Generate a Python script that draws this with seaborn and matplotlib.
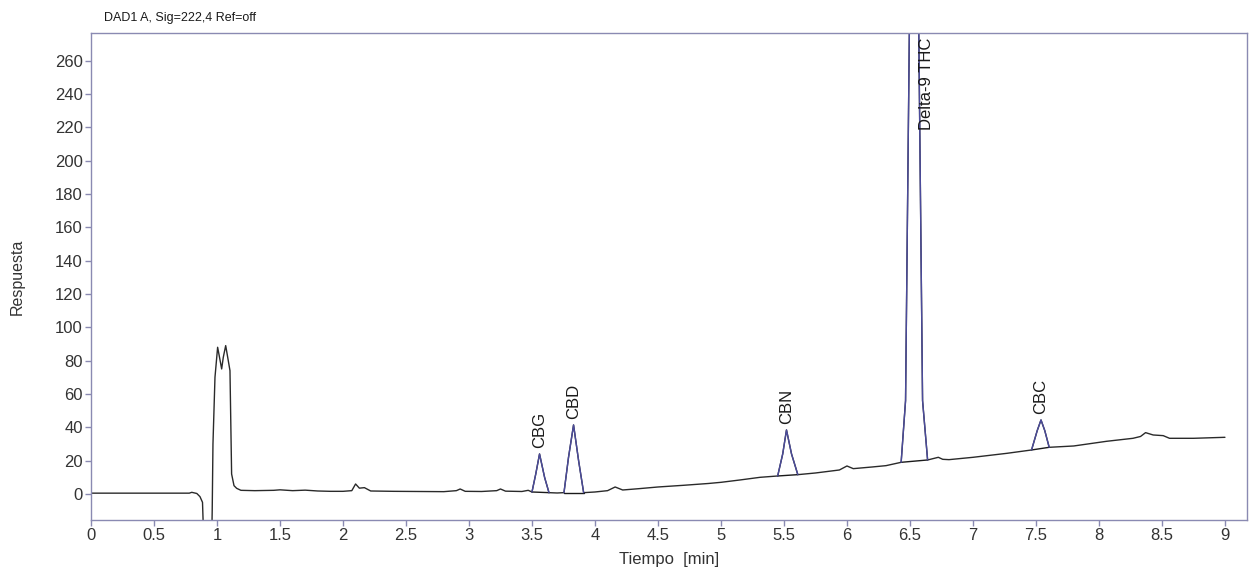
import matplotlib
matplotlib.use('Agg')
import pandas as pd
import matplotlib.pyplot as plt
import seaborn as sns
import numpy as np

# signal (time in min, response)
tiempo = [0.0, 0.5, 0.78, 0.80, 0.84, 0.865, 0.885, 0.90, 0.955, 0.962, 0.968,
          0.984, 1.005, 1.02, 1.037, 1.05, 1.069, 1.085, 1.103, 1.116, 1.135,
          1.156, 1.19, 1.3, 1.45, 1.5, 1.6, 1.7, 1.8, 1.9, 2.0, 2.07, 2.1,
          2.13, 2.17, 2.22, 2.4, 2.6, 2.8, 2.9, 2.93, 2.97, 3.1, 3.22, 3.25,
          3.29, 3.42, 3.47, 3.50, 3.53, 3.56, 3.60, 3.635, 3.7, 3.754, 3.79,
          3.83, 3.87, 3.91, 4.0, 4.1, 4.16, 4.22, 4.35, 4.5, 4.7, 4.9, 5.0,
          5.15, 5.31, 5.45, 5.49, 5.52, 5.56, 5.61, 5.75, 5.94, 6.0, 6.05,
          6.2, 6.31, 6.43, 6.465, 6.495, 6.53, 6.57, 6.60, 6.64, 6.725, 6.76,
          6.81, 7.0, 7.27, 7.465, 7.51, 7.54, 7.57, 7.605, 7.8, 8.06, 8.27,
          8.33, 8.37, 8.43, 8.51, 8.56, 8.75, 9.0]
respuesta = [0.5, 0.5, 0.5, 1.0, 0.3, -1.6, -5, -40, -40, -10, 30,
             70, 88, 82, 75, 82, 89, 82, 74, 12, 5,
             3.4, 2.2, 2.0, 2.2, 2.5, 2.0, 2.3, 1.8, 1.6, 1.6, 2.0, 6.0,
             3.5, 3.8, 1.8, 1.6, 1.5, 1.4, 2.0, 3.0, 1.6, 1.5, 2.0, 3.0,
             1.7, 1.5, 2.2, 1.2, 12, 24, 10, 0.8, 0.6, 0.8, 22,
             41.4, 20, 0.8, 1.2, 2.0, 4.2, 2.4, 3.2, 4.2, 5.2, 6.3, 7.0,
             8.4, 10.0, 10.8, 24, 38.4, 24, 11.6, 12.6, 14.4, 16.8, 15.2,
             16.2, 17.0, 19.0, 56, 276, 560, 276, 56, 20.4, 22.0, 20.8,
             20.6, 22.0, 24.4, 26.4, 38, 44.4, 38, 28.0, 28.8, 31.6, 33.4,
             34.5, 36.8, 35.4, 35.0, 33.4, 33.4, 34.0]

# integrated peaks: name, start, apex, end (min)
picos = ['CBG', 'CBD', 'CBN', 'Delta-9 THC', 'CBC']
inicio = [3.50, 3.754, 5.45, 6.43, 7.465]
apice = [3.56, 3.83, 5.52, 6.53, 7.54]
fin = [3.635, 3.91, 5.61, 6.64, 7.605]

df = pd.DataFrame({'Tiempo': tiempo, 'Respuesta': respuesta})

sns.set_theme(style="ticks")
plt.rcParams['font.family'] = ['Liberation Sans', 'DejaVu Sans']

frame = '#8a8ab2'
fig = plt.figure(figsize=(12.5, 5.7), dpi=100)
ax = fig.add_axes([91/1250, 50/570, 1156/1250, 487/570])

sns.lineplot(data=df, x='Tiempo', y='Respuesta', color='#2a2a2a', lw=1.0,
             sort=False, estimator=None, ax=ax)

for nombre, a, p, b in zip(picos, inicio, apice, fin):
    seg = df[(df.Tiempo >= a) & (df.Tiempo <= b)]
    # baseline drawn between the peak start and end
    ya = seg.Respuesta.iloc[0]
    yb = seg.Respuesta.iloc[-1]
    ax.plot([a, b], [ya, yb], color='#1a1a1a', lw=1.0)
    sns.lineplot(data=seg, x='Tiempo', y='Respuesta', color='#4b4b9c', lw=1.0,
                 sort=False, estimator=None, ax=ax)
    altura = df.Respuesta[df.Tiempo == p].iloc[0]
    if altura > 270:
        ax.text(p + 0.1, 274, nombre, rotation=90, ha='center', va='top',
                fontsize=12, color='#1a1a1a')
    else:
        ax.annotate(nombre, (p, altura), xytext=(0, 4), textcoords='offset points',
                    rotation=90, ha='center', va='bottom', fontsize=12, color='#1a1a1a')

ax.set_xlim(0, 9.175)
ax.set_ylim(-15.6, 276.5)
ax.set_xticks(np.arange(0, 9.01, 0.5))
ax.set_xticklabels(['%g' % v for v in np.arange(0, 9.01, 0.5)])
ax.set_yticks(np.arange(0, 261, 20))

for s in ax.spines.values():
    s.set_color(frame)
    s.set_linewidth(1.0)
ax.tick_params(axis='both', direction='out', length=4, width=1.0, color=frame,
               labelsize=12, labelcolor='#333333', pad=2)

ax.set_xlabel('Tiempo  [min]', fontsize=12, color='#333333')
ax.set_ylabel('Respuesta', fontsize=11.5, color='#333333')
ax.xaxis.set_label_coords(0.5, -0.066)
ax.yaxis.set_label_coords(-0.057, 0.5)

fig.text(104/1250, 1 - 18/570, 'DAD1 A, Sig=222,4 Ref=off', fontsize=9,
         color='#1a1a1a', va='center', ha='left')

fig.savefig('out.png', dpi=100)
